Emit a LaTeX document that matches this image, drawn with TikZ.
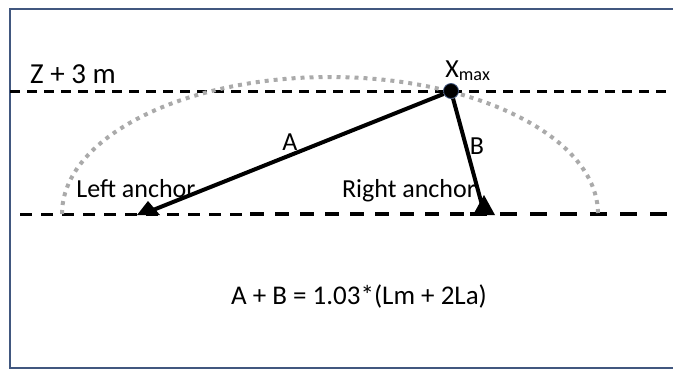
\documentclass[tikz,border=0pt]{standalone}
\usepackage{fontspec}
\setmainfont{Carlito}
\usetikzlibrary{positioning}
\definecolor{framecol}{HTML}{41577F}
\definecolor{arcgray}{HTML}{AAAAAA}

\begin{document}
\begin{tikzpicture}[x=0.5pt,y=-0.5pt,
  lbl/.style={font=\fontsize{13}{15}\selectfont,inner sep=0pt},
  level/.style={line width=1.5pt,dash pattern=on 5pt off 3.5pt},
  rope/.style={line width=2pt}]
\useasboundingbox (0,0) rectangle (673,370);

% frame, open on the right
\draw[framecol,line width=0.8pt] (673,9) -- (10,9) -- (10,368) -- (673,368);

% levels
\coordinate (zl) at (10,91);
\coordinate (zr) at (673,91);
\draw[level] (zl) -- (zr);
\coordinate (g0) at (20,214);
\coordinate (g1) at (250,214);
\coordinate (g2) at (470,214);
\coordinate (g3) at (673,214);
\draw[line width=1.5pt,dash pattern=on 6pt off 4.5pt] (g0) -- (g1);
\draw[line width=1.75pt,dash pattern=on 7pt off 5.5pt] (g1) -- (g2);
\draw[line width=2.1pt,dash pattern=on 8.5pt off 6.5pt] (g2) -- (g3);

% reach of the rope
\draw[arcgray,line width=2pt,dash pattern=on 2pt off 2.5pt]
  (62,214) arc[start angle=180,end angle=360,x radius=268,y radius=137];

% anchors
\coordinate (leftTip) at (153,210);
\coordinate (rightTip) at (482,205);
\fill (148,201) -- (160,215) -- (137,215) -- cycle;
\fill (484,195) -- (495,215) -- (473,215) -- cycle;

\node[draw=framecol,fill=black,circle,inner sep=0pt,minimum size=7.5pt] (xmax) at (451,91) {};
\draw[rope] (xmax) -- (leftTip);
\draw[rope] (xmax) -- (rightTip);

\node[lbl,font=\fontsize{14.5}{16}\selectfont,anchor=base] (zlabel) at (73,83) {Z + 3 m};
\node[lbl,anchor=base west] (xmaxlbl) at (445,77) {X\textsubscript{max}};
\node[lbl] (ropeA) at (290,142) {A};
\node[lbl] (ropeB) at (477,146) {B};
\node[lbl,anchor=base] (leftlbl) at (136,197) {Left anchor};
\node[lbl,anchor=base] (rightlbl) at (409,197) {Right anchor};
\node[lbl,font=\fontsize{13.5}{16}\selectfont,anchor=base] (sumlbl) at (359,304) {A + B = 1.03*(Lm + 2La)};
\end{tikzpicture}
\end{document}
